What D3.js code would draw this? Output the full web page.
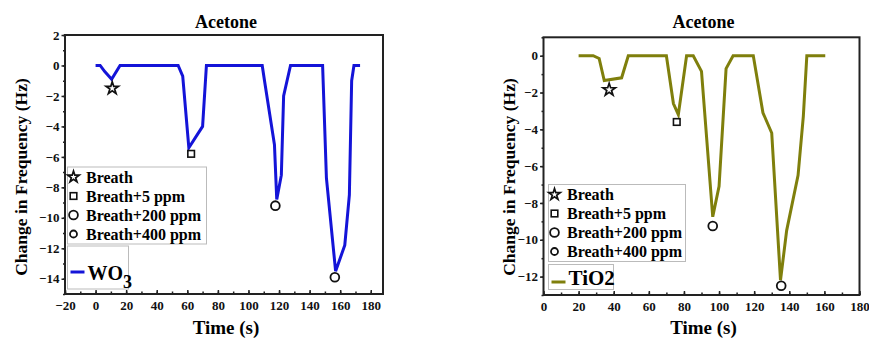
<!DOCTYPE html>
<html>
<head>
<meta charset="utf-8">
<script src="https://cdn.jsdelivr.net/npm/d3@7"></script>
<style>
  body { margin: 0; background: #fff; }
  svg { display: block; font-family: "Liberation Serif", "Times New Roman", serif; font-weight: bold; }
  .tick text { font-family: "Liberation Serif", "Times New Roman", serif; font-weight: bold; font-size: 13px; }
</style>
</head>
<body>
<svg id="chart" width="869" height="338"></svg>
<script>
// WO3 sensor response (time in s, change in frequency in Hz)
var wo3Time = [0, 3, 6, 10.5, 16, 54, 57, 61, 70, 72.5, 109, 110.5, 117, 118.5, 121.5, 123, 127.5, 148.5, 151, 157, 163, 166, 167.5, 169, 173];
var wo3Freq = [0, 0, -0.4, -0.9, 0, 0, -0.7, -5.4, -4.0, 0, 0, -1.0, -5.2, -8.8, -7.2, -2.0, 0, 0, -7.4, -13.5, -11.8, -8.5, -1.0, 0, 0];

// TiO2 sensor response
var tio2Time = [20, 28.3, 31.7, 34.6, 44.5, 48.3, 70, 74, 76.8, 81.5, 85.3, 90, 96.4, 100, 104, 108, 119.5, 125, 130, 135, 138.5, 145, 148, 150, 160.5];
var tio2Freq = [0, 0, -0.15, -1.35, -1.2, 0, 0, -2.6, -3.2, 0, 0, -0.85, -8.75, -7.1, -0.7, 0, 0, -3.1, -4.2, -12.2, -9.5, -6.5, -3.3, 0, 0];

// exposure markers: Breath, Breath+5 ppm, Breath+200 ppm, Breath+400 ppm
var markerNames = ["Breath", "Breath+5 ppm", "Breath+200 ppm", "Breath+400 ppm"];
var markerShapes = ["star", "square", "circle", "smallcircle"];
var wo3MarkTime = [10.9, 62.5, 117.6, 156.5];
var wo3MarkFreq = [-1.5, -5.8, -9.2, -13.9];
var tio2MarkTime = [37.4, 75.9, 96.4, 135.4];
var tio2MarkFreq = [-1.85, -3.6, -9.25, -12.5];

var xTicksLeft = [-20, 0, 20, 40, 60, 80, 100, 120, 140, 160, 180];
var yTicksLeft = [2, 0, -2, -4, -6, -8, -10, -12, -14];
var xTicksRight = [0, 20, 40, 60, 80, 100, 120, 140, 160, 180];
var yTicksRight = [0, -2, -4, -6, -8, -10, -12];

var svg = d3.select("#chart");

function drawMarker(g, shape, x, y, big) {
    if (shape == "star") {
        g.append("path")
         .attr("d", d3.symbol().type(d3.symbolStar).size(big ? 48 : 40)())
         .attr("transform", "translate(" + x + "," + y + ")")
         .attr("fill", "none").attr("stroke", "#111").attr("stroke-width", 1.7);
    } else if (shape == "square") {
        g.append("rect")
         .attr("x", x - 3.3).attr("y", y - 3.3).attr("width", 6.6).attr("height", 6.6)
         .attr("fill", "none").attr("stroke", "#111").attr("stroke-width", 1.6);
    } else {
        var r = shape == "circle" ? 4.4 : (big ? 4.4 : 3.5);
        g.append("circle")
         .attr("cx", x).attr("cy", y).attr("r", r)
         .attr("fill", "none").attr("stroke", "#111").attr("stroke-width", 1.8);
    }
}

function styleAxis(a) {
    a.attr("font-family", null).attr("font-size", null);
    a.select(".domain").remove();
    a.selectAll("line").attr("stroke-width", 1.5).attr("stroke", "#222");
    a.selectAll("text").attr("fill", "#111");
}

function drawPanel(p) {
    var x = d3.scaleLinear().domain(p.xDomain).range([p.left, p.right]);
    var y = d3.scaleLinear().domain(p.yDomain).range([p.bottom, p.top]);
    var g = svg.append("g");

    // title
    g.append("text")
     .attr("x", (p.left + p.right) / 2 + 2).attr("y", 28)
     .attr("text-anchor", "middle").attr("font-size", "18px")
     .text("Acetone");

    // minor ticks
    var xMinor = d3.range(p.xDomain[0], p.xDomain[1] + 0.1, 10);
    g.append("g")
     .attr("transform", "translate(0," + p.bottom + ")")
     .call(d3.axisBottom(x).tickValues(xMinor).tickSize(-2.5).tickFormat(""))
     .call(styleAxis);
    var yMinor = d3.range(Math.ceil(p.yDomain[0]), p.yDomain[1] + 0.1, 1);
    g.append("g")
     .attr("transform", "translate(" + p.left + ",0)")
     .call(d3.axisLeft(y).tickValues(yMinor).tickSize(2).tickFormat(""))
     .call(styleAxis);

    // major axes
    g.append("g")
     .attr("transform", "translate(0," + p.bottom + ")")
     .call(d3.axisBottom(x).tickValues(p.xTicks).tickSize(-4).tickPadding(7))
     .call(styleAxis);
    g.append("g")
     .attr("transform", "translate(" + p.left + ",0)")
     .call(d3.axisLeft(y).tickValues(p.yTicks).tickSize(3.5).tickPadding(2))
     .call(styleAxis);

    // frame
    g.append("rect")
     .attr("x", p.left).attr("y", p.top)
     .attr("width", p.right - p.left).attr("height", p.bottom - p.top)
     .attr("fill", "none").attr("stroke", "#222").attr("stroke-width", 2);

    // axis labels
    g.append("text")
     .attr("x", (p.left + p.right) / 2 + 2).attr("y", 334)
     .attr("text-anchor", "middle").attr("font-size", "19px")
     .text("Time (s)");
    g.append("text")
     .attr("transform", "translate(" + p.yLabelX + ",177) rotate(-90)")
     .attr("text-anchor", "middle").attr("font-size", "17.5px")
     .text("Change in Frequency (Hz)");

    // response line
    var pts = p.time.map(function(t, i){ return [t, p.freq[i]]; });
    g.append("path")
     .datum(pts)
     .attr("d", d3.line().x(function(d){ return x(d[0]); }).y(function(d){ return y(d[1]); }))
     .attr("fill", "none").attr("stroke", p.color).attr("stroke-width", 3)
     .attr("stroke-linejoin", "miter");

    // exposure markers
    p.markTime.forEach(function(t, i){
        drawMarker(g, markerShapes[i], x(t), y(p.markFreq[i]), true);
    });

    // legend for markers
    var lg = p.legend;
    g.append("rect")
     .attr("x", lg.x).attr("y", lg.y).attr("width", lg.w).attr("height", lg.h)
     .attr("fill", "#fff").attr("stroke", "#bbb").attr("stroke-width", 1);
    markerNames.forEach(function(name, i){
        var cy = lg.y + 10 + i * 19;
        drawMarker(g, markerShapes[i], lg.x + 6, cy, false);
        g.append("text")
         .attr("x", lg.x + 18.5).attr("y", cy + 5.5)
         .attr("font-size", "16px")
         .text(name);
    });

    // legend for the line
    var sl = p.seriesLegend;
    g.append("rect")
     .attr("x", sl.x).attr("y", sl.y).attr("width", sl.w).attr("height", sl.h)
     .attr("fill", "#fff").attr("stroke", "#bbb").attr("stroke-width", 1);
    g.append("line")
     .attr("x1", sl.x + 3).attr("x2", sl.x + 17)
     .attr("y1", sl.lineY).attr("y2", sl.lineY)
     .attr("stroke", p.color).attr("stroke-width", 3);
    var t = g.append("text")
     .attr("x", sl.x + 20).attr("y", sl.textY)
     .attr("font-size", sl.fontSize);
    t.append("tspan").text(p.name);
    if (p.sub) {
        t.append("tspan").attr("dy", 8).attr("font-size", "18px").text(p.sub);
    }
}

drawPanel({
    xDomain: [-20, 188], yDomain: [-15, 2],
    left: 65, right: 383, top: 35, bottom: 294,
    xTicks: xTicksLeft, yTicks: yTicksLeft,
    yLabelX: 27,
    time: wo3Time, freq: wo3Freq, color: "#1414d8",
    markTime: wo3MarkTime, markFreq: wo3MarkFreq,
    legend: { x: 67.5, y: 167, w: 139, h: 77 },
    seriesLegend: { x: 67.5, y: 246, w: 61, h: 43, lineY: 272, textY: 280, fontSize: "20px" },
    name: "WO", sub: "3"
});

drawPanel({
    xDomain: [0, 180], yDomain: [-13, 1],
    left: 543.5, right: 859.5, top: 37.3, bottom: 295,
    xTicks: xTicksRight, yTicks: yTicksRight,
    yLabelX: 515,
    time: tio2Time, freq: tio2Freq, color: "#7f7f0c",
    markTime: tio2MarkTime, markFreq: tio2MarkFreq,
    legend: { x: 548.5, y: 184.5, w: 137, h: 77 },
    seriesLegend: { x: 548.5, y: 264.5, w: 65, h: 25, lineY: 282, textY: 285, fontSize: "21px" },
    name: "TiO2", sub: null
});
</script>
</body>
</html>
